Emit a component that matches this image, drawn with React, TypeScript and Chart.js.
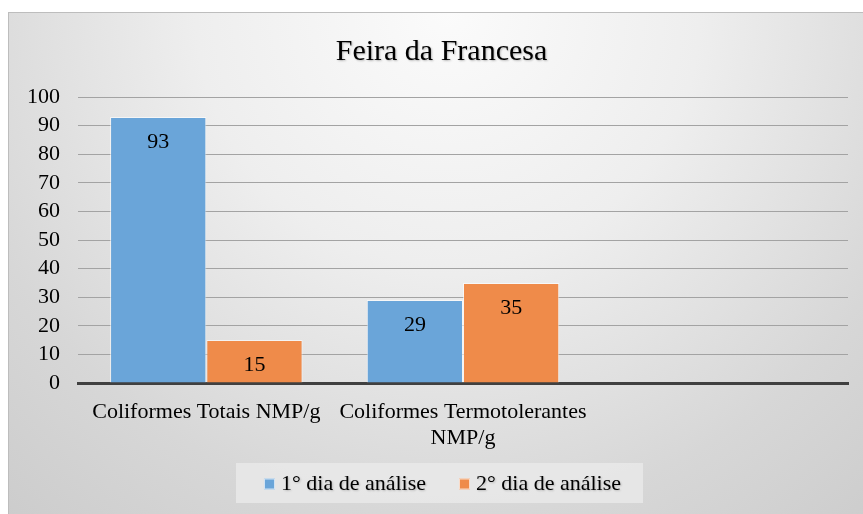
import React, { useEffect, useRef } from "react";
import { Chart, registerables } from "chart.js";

Chart.register(...registerables);

const chartTitle = "Feira da Francesa";
const categories: (string | string[])[] = [
  "Coliformes Totais NMP/g",
  ["Coliformes Termotolerantes", "NMP/g"],
  "",
];
const seriesNames = ["1° dia de análise", "2° dia de análise"];
const day1Values: (number | null)[] = [93, 29, null];
const day2Values: (number | null)[] = [15, 35, null];
const yMin = 0;
const yMax = 100;
const yStep = 10;

const BLUE = "#6aa5d9";
const ORANGE = "#ef8b4a";
const FONT = "'Liberation Serif', 'Times New Roman', serif";

const backgroundPlugin = {
  id: "bgFrame",
  beforeDraw(chart: any) {
    const { ctx, width, height } = chart;
    ctx.save();
    const g = ctx.createRadialGradient(440, 0, 0, 440, 0, 720);
    g.addColorStop(0, "#fbfbfb");
    g.addColorStop(0.35, "#eeeeee");
    g.addColorStop(0.7, "#d7d7d7");
    g.addColorStop(1, "#c9c9c9");
    ctx.fillStyle = g;
    ctx.fillRect(0, 0, width, height);
    ctx.strokeStyle = "#bdbdbd";
    ctx.lineWidth = 1;
    ctx.strokeRect(0.5, 0.5, width + 5, height + 5);
    ctx.restore();
  },
};

const titleLegendPlugin = {
  id: "titleLegend",
  afterDraw(chart: any) {
    const { ctx } = chart;
    ctx.save();
    // title
    ctx.shadowColor = "rgba(0,0,0,0.25)";
    ctx.shadowBlur = 2;
    ctx.shadowOffsetX = 1;
    ctx.shadowOffsetY = 1;
    ctx.fillStyle = "#000";
    ctx.font = `30px ${FONT}`;
    ctx.textAlign = "center";
    ctx.textBaseline = "middle";
    ctx.fillText(chartTitle, 433.5, 40);
    ctx.shadowColor = "transparent";

    // legend box
    const boxX = 228, boxY = 451, boxW = 407, boxH = 40;
    ctx.fillStyle = "rgba(235,235,235,0.75)";
    ctx.fillRect(boxX, boxY, boxW, boxH);
    ctx.font = `22px ${FONT}`;
    ctx.textAlign = "left";
    const colors = [BLUE, ORANGE];
    const sq = 11, gapSq = 6, gapItem = 33;
    const widths = seriesNames.map((n) => ctx.measureText(n).width);
    const total = widths.reduce((a, w) => a + sq + gapSq + w, 0) + gapItem * (seriesNames.length - 1);
    let x = boxX + boxW / 2 - total / 2 + 3;
    const cy = boxY + boxH / 2 + 1;
    seriesNames.forEach((n, i) => {
      ctx.fillStyle = colors[i];
      ctx.fillRect(x, cy - sq / 2, sq, sq);
      ctx.strokeStyle = "rgba(255,255,255,0.7)";
      ctx.lineWidth = 1;
      ctx.strokeRect(x + 0.5, cy - sq / 2 + 0.5, sq - 1, sq - 1);
      x += sq + gapSq;
      ctx.fillStyle = "#000";
      ctx.shadowColor = "rgba(0,0,0,0.2)";
      ctx.shadowBlur = 2;
      ctx.shadowOffsetX = 1;
      ctx.shadowOffsetY = 1;
      ctx.fillText(n, x, cy);
      ctx.shadowColor = "transparent";
      x += widths[i] + gapItem;
    });
    ctx.restore();
  },
};

const valueLabelPlugin = {
  id: "valueLabels",
  afterDatasetsDraw(chart: any) {
    const { ctx } = chart;
    ctx.save();
    ctx.font = `22px ${FONT}`;
    ctx.fillStyle = "#000";
    ctx.textAlign = "center";
    ctx.textBaseline = "middle";
    chart.data.datasets.forEach((ds: any, di: number) => {
      const meta = chart.getDatasetMeta(di);
      meta.data.forEach((bar: any, i: number) => {
        const v = ds.data[i];
        if (v === null || v === undefined) return;
        ctx.fillText(String(v), bar.x, bar.y + 25);
      });
    });
    ctx.restore();
  },
};

export default function App() {
  const ref = useRef<HTMLCanvasElement | null>(null);
  useEffect(() => {
    if (!ref.current) return;
    const chart = new Chart(ref.current, {
      type: "bar",
      data: {
        labels: categories as any,
        datasets: [
          {
            label: seriesNames[0],
            data: day1Values,
            backgroundColor: BLUE,
            borderColor: "rgba(255,255,255,0.6)",
            borderWidth: 1,
            categoryPercentage: 0.75,
            barPercentage: 1,
          },
          {
            label: seriesNames[1],
            data: day2Values,
            backgroundColor: ORANGE,
            borderColor: "rgba(255,255,255,0.6)",
            borderWidth: 1,
            categoryPercentage: 0.75,
            barPercentage: 1,
          },
        ],
      },
      options: {
        responsive: false,
        animation: false,
        layout: { padding: { top: 85, right: 15, bottom: 51, left: 0 } },
        plugins: {
          legend: { display: false },
          title: { display: false },
          tooltip: { enabled: false },
        },
        scales: {
          x: {
            grid: { display: false, drawTicks: false },
            border: { display: true, color: "#404040", width: 3 },
            ticks: {
              color: "#000",
              padding: 16,
              maxRotation: 0,
              autoSkip: false,
              font: { family: FONT, size: 22, lineHeight: 1.18 },
            },
            afterFit(scale: any) {
              scale.height = 80;
            },
          },
          y: {
            min: yMin,
            max: yMax,
            grid: { color: "#a3a3a3", lineWidth: 1, drawTicks: false },
            border: { display: false },
            ticks: {
              stepSize: yStep,
              autoSkip: false,
              color: "#000",
              padding: 18,
              font: { family: FONT, size: 22 },
            },
            afterFit(scale: any) {
              scale.width = 70;
            },
          },
        },
      },
      plugins: [backgroundPlugin, valueLabelPlugin, titleLegendPlugin],
    });
    return () => chart.destroy();
  }, []);
  return (
    <div style={{ position: "fixed", left: 8, top: 12, width: 855, height: 502 }}>
      <canvas ref={ref} width={855} height={502} style={{ display: "block", width: 855, height: 502 }} />
    </div>
  );
}
